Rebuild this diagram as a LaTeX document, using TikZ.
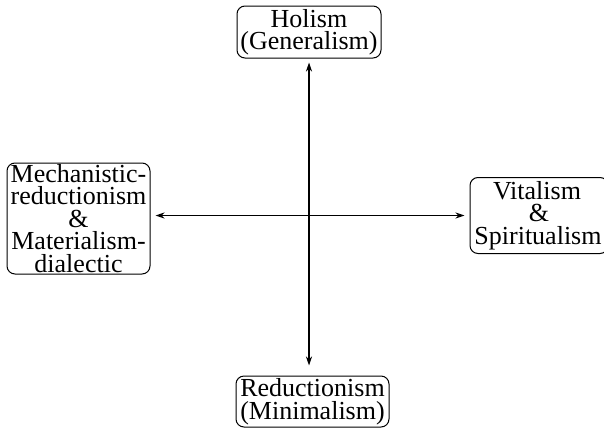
\documentclass[tikz,border=0pt]{standalone}
\usepackage{fontspec}
\setmainfont{Liberation Serif}
\usetikzlibrary{arrows.meta}
\begin{document}
\begin{tikzpicture}[x=1pt,y=-1pt,
  box/.style={draw,line width=1pt,rounded corners=8pt,inner sep=0pt,align=center,
    font=\fontsize{26}{22.5}\selectfont},
  link/.style={line width=1.2pt,{Stealth[length=9pt,width=6pt]}-{Stealth[length=9pt,width=6pt]}}]
\useasboundingbox (0,0) rectangle (604,431);
\begin{scope}
\clip (0,0) rectangle (604,431);
\node[box,minimum width=144pt,minimum height=52pt] (top) at (309,32) {Holism\\(Generalism)};
\node[box,minimum width=143pt,minimum height=111pt] (left) at (78.5,218.5) {Mechanistic-\\reductionism\\\&\\Materialism-\\dialectic};
\node[box,minimum width=138pt,minimum height=76pt] (right) at (539,215.5) {\hspace*{-4pt}Vitalism\\\&\\Spiritualism\hspace*{2pt}};
\node[box,minimum width=153pt,minimum height=51pt] (bot) at (312.5,401.5) {Reductionism\\(Minimalism)};
\end{scope}
\draw[link] ([yshift=-4pt]top.south) -- ([yshift=10pt]top.south |- bot.north);
\draw[link] ([xshift=5pt]left.east |- right.west) -- ([xshift=-5pt]right.west);
\end{tikzpicture}
\end{document}
